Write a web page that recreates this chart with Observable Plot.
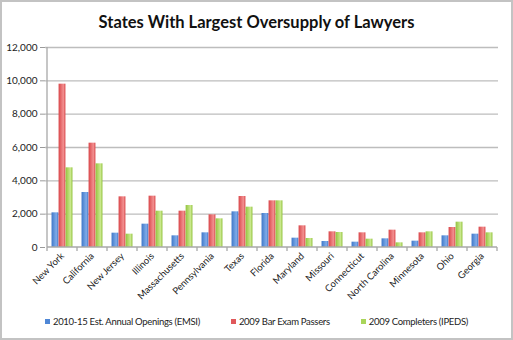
<!DOCTYPE html>
<html><head><meta charset="utf-8">
<script src="https://cdn.jsdelivr.net/npm/d3@7"></script>
<script src="https://cdn.jsdelivr.net/npm/@observablehq/plot@0.6"></script>
<style>
html,body{margin:0;padding:0;background:#fff;}
#wrap{position:relative;width:513px;height:340px;overflow:hidden;font-family:Lato,"Open Sans",sans-serif;background:#fff;}
#frame{position:absolute;left:0;top:0;width:513px;height:340px;box-sizing:border-box;border:2px solid #c3c3c3;pointer-events:none;}
#title{position:absolute;left:0;top:0;width:513px;height:38px;line-height:45px;text-align:center;font-weight:bold;font-size:16.5px;color:#111;}
#chart{position:absolute;left:0;top:38px;}
#legend{position:absolute;left:0;top:310px;width:513px;height:22px;display:flex;justify-content:center;align-items:center;gap:31px;font-size:9.5px;letter-spacing:-0.3px;color:#222;}
.item{display:flex;align-items:center;}
.sw{width:5px;height:5px;margin-right:3px;}
</style>
</head><body>
<div id="wrap">
  <div id="title">States With Largest Oversupply of Lawyers</div>
  <div id="chart"></div>
  <div id="legend"></div>
  <div id="frame"></div>
</div>
<script>
const states = ["New York","California","New Jersey","Illinois","Massachusetts","Pennsylvania","Texas","Florida","Maryland","Missouri","Connecticut","North Carolina","Minnesota","Ohio","Georgia"];
const openings = [2080,3300,860,1400,700,880,2140,2040,560,360,320,520,380,700,800];
const passers = [9800,6260,3040,3080,2180,1960,3060,2800,1300,940,880,1040,880,1200,1220];
const completers = [4780,5020,800,2180,2520,1720,2420,2800,540,900,500,280,940,1520,880];
const seriesNames = ["2010-15 Est. Annual Openings (EMSI)","2009 Bar Exam Passers","2009 Completers (IPEDS)"];
const yTicks = [0,2000,4000,6000,8000,10000,12000];

const W = 513, H = 262, ML = 45, MR = 15, MT = 9, MB = 53;
const bw = (W - ML - MR) / states.length;
const gap = 0.15, slot = (1 - 2 * gap) / 3;
const seriesValues = [openings, passers, completers];
const fills = ["url(#gBlue)","url(#gRed)","url(#gGreen)"];
const legendColors = ["#4f87d6","#e0585b","#a9d55a"];

const barMarks = seriesValues.map((vals, j) =>
  Plot.barY(states, {
    x: d => d,
    y: (d, i) => vals[i],
    fill: fills[j],
    insetLeft: bw * (gap + j * slot),
    insetRight: bw * (1 - gap - (j + 1) * slot)
  })
);

const plot = Plot.plot({
  width: W, height: H,
  marginLeft: ML, marginRight: MR, marginTop: MT, marginBottom: MB,
  style: {fontFamily: "Lato, sans-serif", fontSize: "10px", color: "#222", background: "transparent"},
  x: {domain: states, padding: 0, label: null},
  y: {domain: [0, 12000], label: null},
  marks: [
    Plot.ruleY(yTicks.filter(t => t > 0), {stroke: "#bdbdbd", strokeWidth: 1.4}),
    ...barMarks,
    Plot.axisY(yTicks, {tickFormat: d3.format(","), tickSize: 5, tickPadding: 3, stroke: "#9a9a9a", fontSize: 10, label: null}),
    Plot.axisX(states, {tickSize: 0, tickPadding: 7, tickRotate: -45, fontSize: 9.5, label: null})
  ]
});

// gradients
const svg = d3.select(plot);
const defs = svg.insert("defs", ":first-child");
const grads = [["gBlue","#3f78c9","#80ace9"],["gRed","#d9464a","#f29090"],["gGreen","#93c43f","#cbe98f"]];
for (const [id, a, b] of grads) {
  const g = defs.append("linearGradient").attr("id", id).attr("x1", 0).attr("x2", 1).attr("y1", 0).attr("y2", 0);
  g.append("stop").attr("offset", "0%").attr("stop-color", a);
  g.append("stop").attr("offset", "70%").attr("stop-color", b);
  g.append("stop").attr("offset", "100%").attr("stop-color", a);
}
// axis lines and category boundary ticks from the scales
const xs = plot.scale("x"), ys = plot.scale("y");
const y0 = ys.apply(0), yTop = ys.apply(12000);
const starts = states.map(s => xs.apply(s));
const xEnd = starts[starts.length - 1] + xs.bandwidth;
const g = svg.append("g").attr("stroke", "#a8a8a8").attr("stroke-width", 1.3);
g.append("line").attr("x1", starts[0]).attr("x2", starts[0]).attr("y1", yTop).attr("y2", y0);
g.append("line").attr("x1", starts[0]).attr("x2", xEnd).attr("y1", y0).attr("y2", y0);
for (const x of [...starts, xEnd]) {
  g.append("line").attr("x1", x).attr("x2", x).attr("y1", y0).attr("y2", y0 + 4);
}
document.getElementById("chart").appendChild(plot);

const leg = document.getElementById("legend");
seriesNames.forEach((n, i) => {
  const it = document.createElement("div"); it.className = "item";
  const sw = document.createElement("div"); sw.className = "sw"; sw.style.background = legendColors[i];
  const t = document.createElement("span"); t.textContent = n;
  it.appendChild(sw); it.appendChild(t); leg.appendChild(it);
});
</script>
</body></html>
